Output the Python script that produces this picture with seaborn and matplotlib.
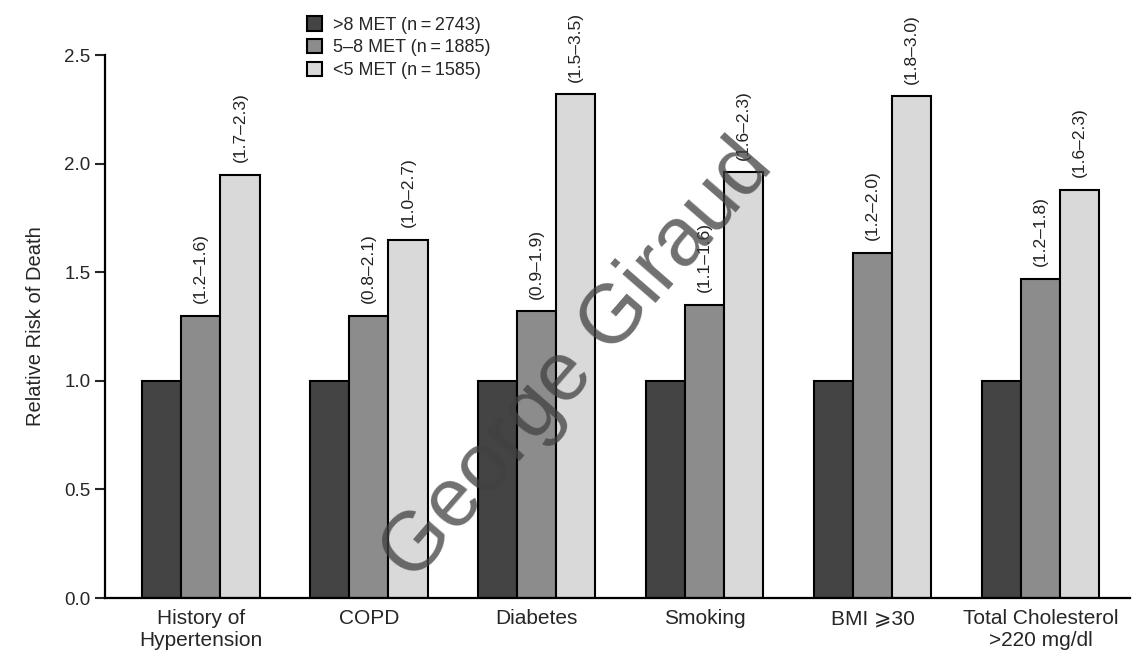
import matplotlib
matplotlib.use("Agg")
import matplotlib.pyplot as plt
import seaborn as sns
import pandas as pd
import numpy as np
from matplotlib.patches import Patch

categories = ["History of\nHypertension", "COPD", "Diabetes", "Smoking", "BMI \u2a7e30",
              "Total Cholesterol\n>220 mg/dl"]
groups = [">8 MET (n\u2009=\u20092743)", "5\u20138 MET (n\u2009=\u20091885)", "<5 MET (n\u2009=\u20091585)"]
high_fit = [1.0, 1.0, 1.0, 1.0, 1.0, 1.0]
mid_fit = [1.30, 1.30, 1.32, 1.35, 1.59, 1.47]
low_fit = [1.95, 1.65, 2.32, 1.96, 2.31, 1.88]
mid_ci = ["(1.2\u20131.6)", "(0.8\u20132.1)", "(0.9\u20131.9)", "(1.1\u20131.6)", "(1.2\u20132.0)", "(1.2\u20131.8)"]
low_ci = ["(1.7\u20132.3)", "(1.0\u20132.7)", "(1.5\u20133.5)", "(1.6\u20132.3)", "(1.8\u20133.0)", "(1.6\u20132.3)"]
yticks = [0.0, 0.5, 1.0, 1.5, 2.0, 2.5]

colors = ["#444444", "#8c8c8c", "#d9d9d9"]

rows = []
for vals, g in zip([high_fit, mid_fit, low_fit], groups):
    for c, v in zip(categories, vals):
        rows.append({"cat": c, "group": g, "rr": v})
df = pd.DataFrame(rows)

sns.set_style("ticks")
plt.rcParams["font.family"] = ["Liberation Sans", "DejaVu Sans"]

fig = plt.figure(figsize=(11.32, 6.56), dpi=100)
ax = fig.add_axes([0.0928, 0.0884, 0.905, 0.8276])

sns.barplot(data=df, x="cat", y="rr", hue="group", palette=colors, width=0.7,
            edgecolor="black", linewidth=1.5, ax=ax, legend=False, saturation=1)

for cont, labels in zip(ax.containers[1:], [mid_ci, low_ci]):
    for bar, lab in zip(cont, labels):
        x = bar.get_x() + bar.get_width() / 2
        y = bar.get_height()
        ax.annotate(lab, (x, y), xytext=(0, 9), textcoords="offset points",
                    rotation=90, ha="center", va="bottom", fontsize=12.5, color="#222222")

ax.set_ylim(0, 2.5)
ax.set_xlim(-0.57, 5.53)
ax.set_yticks(yticks)
ax.set_yticklabels([f"{t:.1f}" for t in yticks], fontsize=13.5)
ax.set_ylabel("Relative Risk of Death", fontsize=14.5, labelpad=14)
ax.set_xlabel("")
ax.tick_params(axis="x", length=0, pad=8)
for lab in ax.get_xticklabels():
    lab.set_fontfamily(["Liberation Sans Narrow", "Liberation Sans", "DejaVu Sans"])
    lab.set_fontsize(15)
ax.tick_params(axis="y", length=7, width=1.5, direction="out")
for s in ["top", "right"]:
    ax.spines[s].set_visible(False)
for s in ["left", "bottom"]:
    ax.spines[s].set_linewidth(1.6)
    ax.spines[s].set_color("black")

handles = [Patch(facecolor=c, edgecolor="black", linewidth=1.5) for c in colors]
ax.legend(handles, groups, loc="upper left", bbox_to_anchor=(0.19, 1.085),
          frameon=False, fontsize=13, handlelength=0.85, handleheight=0.85,
          handletextpad=0.6, labelspacing=0.3, borderaxespad=0)

fig.text(0.51, 0.45, "George Giraud", rotation=49, fontsize=60, color="#404040",
         alpha=0.75, ha="center", va="center", family=["Liberation Sans", "DejaVu Sans"])

fig.savefig("out.png", dpi=100)
